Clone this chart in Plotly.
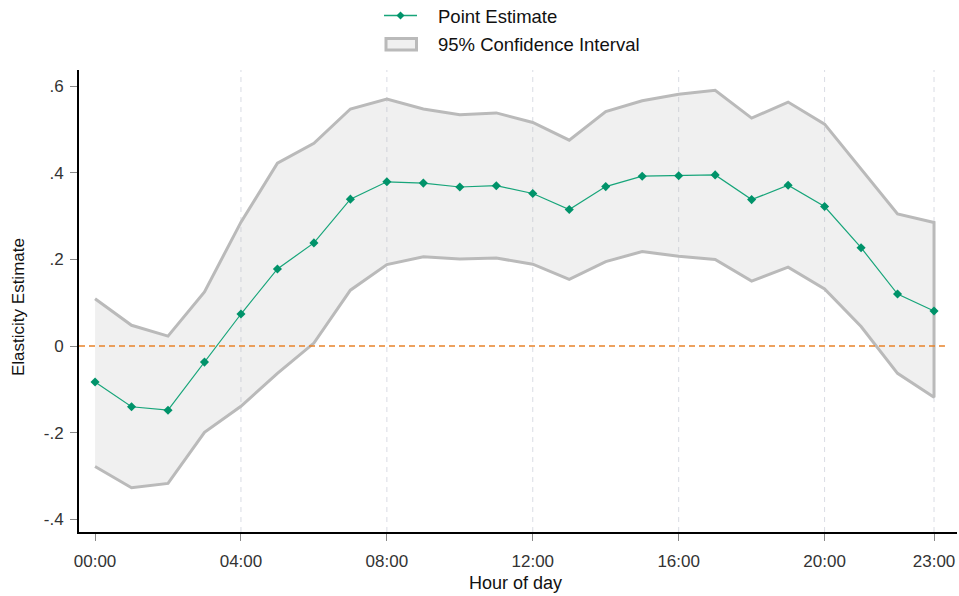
import plotly.graph_objects as go

hours = list(range(24))
point_est = [-0.083, -0.140, -0.148, -0.037, 0.074, 0.178, 0.238, 0.339,
             0.379, 0.376, 0.367, 0.370, 0.352, 0.315, 0.368, 0.392,
             0.393, 0.395, 0.338, 0.371, 0.322, 0.227, 0.120, 0.081]
ci_upper = [0.109, 0.048, 0.023, 0.125, 0.286, 0.422, 0.468, 0.547,
            0.570, 0.547, 0.534, 0.538, 0.516, 0.475, 0.541, 0.566,
            0.581, 0.590, 0.526, 0.563, 0.512, 0.408, 0.305, 0.285]
ci_lower = [-0.278, -0.327, -0.317, -0.199, -0.139, -0.063, 0.007, 0.129,
            0.188, 0.206, 0.201, 0.203, 0.189, 0.154, 0.195, 0.218,
            0.207, 0.200, 0.150, 0.182, 0.132, 0.045, -0.063, -0.118]
x_tickvals = [0, 4, 8, 12, 16, 20, 23]
x_ticktext = ["00:00", "04:00", "08:00", "12:00", "16:00", "20:00", "23:00"]
y_tickvals = [-0.4, -0.2, 0, 0.2, 0.4, 0.6]
y_ticktext = ["-.4", "-.2", "0", ".2", ".4", ".6"]
legend_labels = ["Point Estimate", "95% Confidence Interval"]

FONT = "Liberation Sans, Arial, sans-serif"
GREEN_LINE = "#17a57a"
GREEN_MARK = "#00936a"
BAND_LINE = "#bababa"
BAND_FILL = "rgba(180,180,180,0.2)"
LEGEND_FILL = "#f0f0f0"

# plot area in pixels: x 79..957, y 70..532
L, R, T, B = 79, 957, 70, 532
W, H = R - L, B - T


def px(xp):
    return (xp - L) / W


def py(yp):
    return (B - yp) / H


fig = go.Figure()

# vertical dashed gridlines (none at 00:00, as in the reference)
for xv in x_tickvals[1:]:
    fig.add_shape(type="line", xref="x", yref="paper", x0=xv, x1=xv, y0=0, y1=1,
                  line=dict(color="#d9dce4", width=1, dash="5px,5px"), layer="below")

fig.add_trace(go.Scatter(
    x=hours + hours[::-1],
    y=ci_upper + ci_lower[::-1],
    fill="toself",
    fillcolor=BAND_FILL,
    line=dict(color=BAND_LINE, width=3),
    mode="lines",
    name=legend_labels[1],
    showlegend=False,
    hoverinfo="skip",
))

fig.add_trace(go.Scatter(
    x=hours, y=point_est,
    mode="lines+markers",
    line=dict(color=GREEN_LINE, width=1.2),
    marker=dict(symbol="diamond", size=7, color=GREEN_MARK),
    name=legend_labels[0],
    showlegend=False,
))

fig.add_shape(type="line", xref="x", yref="y", x0=-0.44, x1=23.3, y0=0, y1=0,
              line=dict(color="#e8822a", width=1.5, dash="6px,4px"), layer="above")

# manual legend
shapes = []
shapes.append(dict(type="line", xref="paper", yref="paper",
                   x0=px(384), x1=px(417), y0=py(15.5), y1=py(15.5),
                   line=dict(color=GREEN_LINE, width=1.5)))
cx, cy, d = 400.5, 15.5, 4
shapes.append(dict(type="path", xref="paper", yref="paper",
                   path=f"M {px(cx-d)} {py(cy)} L {px(cx)} {py(cy-d)} L {px(cx+d)} {py(cy)} L {px(cx)} {py(cy+d)} Z",
                   fillcolor=GREEN_MARK, line=dict(color=GREEN_MARK, width=0)))
shapes.append(dict(type="rect", xref="paper", yref="paper",
                   x0=px(386), x1=px(416.5), y0=py(50), y1=py(38.5),
                   fillcolor=LEGEND_FILL, line=dict(color=BAND_LINE, width=3)))
for s in shapes:
    fig.add_shape(**s)

annotations = [
    dict(text=legend_labels[0], x=px(436), y=py(16), xref="paper", yref="paper",
         xanchor="left", yanchor="middle", showarrow=False,
         font=dict(size=18.5, color="#111111", family=FONT)),
    dict(text=legend_labels[1], x=px(436), y=py(45), xref="paper", yref="paper",
         xanchor="left", yanchor="middle", showarrow=False,
         font=dict(size=18.5, color="#111111", family=FONT)),
    dict(text="Hour of day", x=px(515), y=py(583), xref="paper", yref="paper",
         xanchor="center", yanchor="middle", showarrow=False,
         font=dict(size=18, color="#111111", family=FONT)),
    dict(text="Elasticity Estimate", x=px(18), y=py(307), xref="paper", yref="paper",
         xanchor="center", yanchor="middle", showarrow=False, textangle=-90,
         font=dict(size=17, color="#111111", family=FONT)),
]
for a in annotations:
    fig.add_annotation(**a)

fig.update_layout(
    width=959, height=596,
    margin=dict(l=L, r=959 - R, t=T, b=596 - B, autoexpand=False),
    paper_bgcolor="white", plot_bgcolor="white",
    font=dict(family=FONT, size=17, color="#333333"),
    showlegend=False,
    xaxis=dict(
        range=[-0.44, 23.63], automargin=False,
        tickmode="array", tickvals=x_tickvals, ticktext=x_ticktext,
        ticks="outside", ticklen=7, tickcolor="#888888", tickwidth=1,
        ticklabelstandoff=6,
        showline=True, linecolor="black", linewidth=2,
        showgrid=False, zeroline=False,
        tickfont=dict(size=17, color="#333333"),
    ),
    yaxis=dict(
        range=[-0.429, 0.637], automargin=False,
        tickmode="array", tickvals=y_tickvals, ticktext=y_ticktext,
        ticks="outside", ticklen=7, tickcolor="#888888", tickwidth=1,
        ticklabelstandoff=3,
        showline=True, linecolor="black", linewidth=2,
        showgrid=False, zeroline=False,
        tickfont=dict(size=17, color="#333333"),
    ),
)

fig.write_html(
    "out.html",
    config={"displayModeBar": False},
    post_script="document.body.style.margin='0';document.body.style.overflow='hidden';",
)
